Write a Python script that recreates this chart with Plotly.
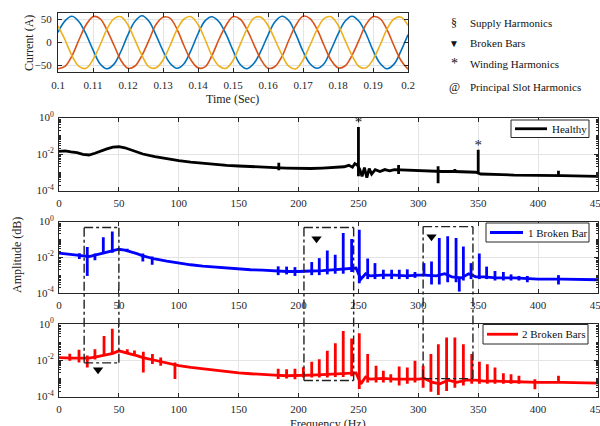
import math
import plotly.graph_objects as go

W, H = 600, 426
FONT = "Liberation Serif"
AX = "#262626"
GRID = "#e4e4e4"

# ---------------- three-phase current (A) sampled every 2 ms ----------------
time_s = [round(0.100 + 0.002 * k, 3) for k in range(51)]
phase_blue = [22, 47, 57, 45, 18, -16, -46, -57, -47, -19,
              17, 46, 58, 46, 16, -18, -45, -56, -46, -17,
              19, 47, 56, 45, 18, -17, -47, -57, -45, -18,
              16, 45, 57, 47, 17, -19, -46, -56, -46, -16,
              18, 46, 57, 46, 19, -17, -45, -57, -47, -18,
              17]
phase_red = [-57, -52, -29, 6, 38, 56, 52, 27, -6, -39,
             -56, -51, -28, 5, 39, 55, 53, 29, -7, -38,
             -55, -53, -28, 7, 37, 56, 51, 28, -5, -37,
             -56, -52, -30, 6, 38, 57, 52, 29, -6, -38,
             -55, -51, -28, 5, 39, 56, 52, 28, -7, -39,
             -58]
phase_yellow = [36, 6, -29, -52, -56, -37, -6, 29, 52, 56,
                38, 5, -28, -53, -55, -38, -7, 28, 51, 56,
                39, 7, -29, -51, -56, -39, -5, 29, 53, 55,
                37, 6, -27, -52, -57, -38, -6, 28, 52, 56,
                38, 5, -28, -52, -55, -37, -6, 29, 51, 55,
                37]

# ---------------- Healthy spectrum ----------------
h_base_f = [0, 5, 10, 15, 20, 25, 30, 35, 40, 45, 50, 55, 60, 65, 70, 80, 90, 100, 110, 120,
            130, 140, 150, 160, 170, 180, 190, 200, 210, 220, 230, 238, 242, 245, 247, 249,
            251, 253, 255, 257, 259, 261, 264, 268, 272, 276, 280, 290, 300, 310, 320, 330,
            340, 348, 352, 360, 370, 380, 400, 420, 440, 450]
h_base_a = [0.014, 0.015, 0.013, 0.012, 0.0095, 0.0088, 0.011, 0.015, 0.019, 0.024, 0.025,
            0.022, 0.017, 0.013, 0.010, 0.0072, 0.0055, 0.0043, 0.0036, 0.0031, 0.0027, 0.0024,
            0.0022, 0.0020, 0.0019, 0.0018, 0.0017, 0.0016, 0.0016, 0.0017, 0.0018, 0.0020,
            0.0024, 0.0019, 0.0030, 0.0025, 0.0015, 0.0006, 0.0018, 0.0005, 0.0016, 0.0008,
            0.0014, 0.0011, 0.0014, 0.0012, 0.0014, 0.0013, 0.0013, 0.0012, 0.0011, 0.0011,
            0.0010, 0.0010, 0.0008, 0.0008, 0.00075, 0.0007, 0.0007, 0.00065, 0.00062, 0.0006]
h_spike_f = [183.5, 250, 283.5, 316.5, 330.5, 350, 417]
h_spike_top = [0.0033, 0.30, 0.0025, 0.0021, 0.0015, 0.017, 0.0012]
h_spike_bot = [0.0013, 0.0006, 0.0008, 0.00025, 0.0009, 0.0009, 0.0006]

# ---------------- 1 broken bar spectrum ----------------
b1_base_f = [0, 5, 10, 15, 20, 25, 30, 35, 40, 45, 50, 55, 60, 65, 70, 80, 90, 100, 110, 120,
             130, 140, 150, 160, 170, 180, 190, 200, 205, 210, 220, 230, 240, 248, 252, 256,
             260, 270, 280, 290, 300, 305, 315, 322, 328, 336, 342, 348, 355, 365, 380, 400,
             420, 440, 450]
b1_base_a = [0.017, 0.016, 0.015, 0.013, 0.012, 0.011, 0.013, 0.016, 0.019, 0.024, 0.028,
             0.025, 0.021, 0.016, 0.012, 0.008, 0.006, 0.0047, 0.0038, 0.0032, 0.0028, 0.0025,
             0.0022, 0.0020, 0.0019, 0.0017, 0.0016, 0.0016, 0.0016, 0.0017, 0.0018, 0.0020,
             0.0022, 0.0025, 0.0006, 0.0012, 0.0009, 0.0010, 0.0010, 0.0009, 0.0010, 0.0010,
             0.0009, 0.0012, 0.0008, 0.0007, 0.0012, 0.0008, 0.0008, 0.0007, 0.0007, 0.0006,
             0.0006, 0.00055, 0.00055]
b1_spike_f = [17, 23.6, 30, 37, 44.5, 57, 70, 77.8, 183, 190, 197, 211, 217.3, 224, 230.6,
              237.3, 244.3, 250.7, 257.7, 263.8, 270.8, 277.7, 284.1, 290.8, 297.2, 304.7, 311,
              317.5, 324.5, 331.5, 334.2, 337.6, 344, 350.9, 357, 364, 371, 377.4, 384, 391, 417]
b1_spike_top = [0.017, 0.037, 0.016, 0.13, 0.28, 0.030, 0.016, 0.011, 0.0031, 0.003, 0.0028,
                0.0054, 0.0089, 0.024, 0.014, 0.23, 0.105, 0.35, 0.0085, 0.0047, 0.002, 0.002,
                0.002, 0.0021, 0.0015, 0.0047, 0.0058, 0.12, 0.15, 0.12, 0.0008, 0.04, 0.0047,
                0.016, 0.003, 0.0017, 0.0015, 0.0011, 0.0009, 0.0009, 0.001]
b1_spike_bot = [0.008, 0.0009, 0.0068, 0.017, 0.018, 0.02, 0.0058, 0.0038, 0.001, 0.0011,
                0.0009, 0.001, 0.001, 0.0011, 0.0012, 0.0012, 0.0015, 0.00035, 0.0006, 0.0006,
                0.0006, 0.0006, 0.0006, 0.0006, 0.0007, 0.0009, 0.0003, 0.0003, 0.0004, 0.0004,
                0.00012, 0.0005, 0.0006, 0.0006, 0.0006, 0.0005, 0.0005, 0.0005, 0.0005, 0.0004,
                0.0003]

# ---------------- 2 broken bars spectrum ----------------
b2_base_f = [0, 5, 10, 15, 20, 25, 30, 35, 40, 45, 50, 55, 60, 65, 70, 80, 90, 100, 110, 120,
             130, 140, 150, 160, 170, 180, 190, 200, 210, 220, 230, 240, 248, 252, 256, 260,
             270, 280, 290, 300, 305, 312, 318, 325, 332, 340, 348, 355, 365, 380, 400, 420,
             440, 450]
b2_base_a = [0.014, 0.013, 0.013, 0.013, 0.0125, 0.013, 0.015, 0.017, 0.020, 0.024, 0.033,
             0.028, 0.022, 0.018, 0.014, 0.010, 0.007, 0.005, 0.004, 0.0033, 0.0028, 0.0023,
             0.0020, 0.0018, 0.0016, 0.0015, 0.0014, 0.0014, 0.0015, 0.0016, 0.0017, 0.0019,
             0.0020, 0.0005, 0.0012, 0.0009, 0.0010, 0.0009, 0.0009, 0.0009, 0.0010, 0.0006,
             0.0005, 0.0008, 0.0006, 0.0008, 0.0008, 0.0007, 0.0007, 0.00065, 0.0006, 0.0006,
             0.00055, 0.00055]
b2_spike_f = [9, 16.7, 23.6, 30, 37.6, 44.5, 57, 63, 70.4, 78, 84.9, 96.8, 183, 190, 197, 204,
              211, 217.3, 224, 230.7, 237.3, 244.3, 250.7, 257.7, 264.7, 270.8, 277, 284, 290.8,
              297.2, 304, 310.5, 316.7, 323.6, 330.5, 337.6, 344.6, 351, 357.6, 364, 371,
              377.4, 384, 397.3, 417]
b2_spike_top = [0.023, 0.038, 0.018, 0.041, 0.22, 0.55, 0.04, 0.035, 0.029, 0.022, 0.014,
                0.0076, 0.0034, 0.0032, 0.0034, 0.0041, 0.0083, 0.0115, 0.033, 0.087, 0.41,
                0.16, 0.31, 0.022, 0.005, 0.0026, 0.0017, 0.0045, 0.004, 0.0093, 0.005, 0.022,
                0.077, 0.18, 0.18, 0.077, 0.022, 0.0083, 0.006, 0.004, 0.0019, 0.0017, 0.0014,
                0.0009, 0.0014]
b2_spike_bot = [0.0094, 0.0076, 0.004, 0.011, 0.02, 0.022, 0.025, 0.02, 0.0021, 0.0063, 0.005,
                0.00093, 0.00093, 0.001, 0.0009, 0.0011, 0.0011, 0.0011, 0.0011, 0.0012, 0.0012,
                0.0013, 0.00026, 0.0006, 0.0006, 0.0006, 0.0006, 0.0004, 0.0005, 0.0006, 0.0003,
                0.00018, 0.00012, 0.0002, 0.0003, 0.0004, 0.0005, 0.0005, 0.0005, 0.0005, 0.0005,
                0.0005, 0.0005, 0.00025, 0.0006]

# ---------------- annotations data ----------------
star_f = [250, 350]
star_a = [0.5, 0.028]
tri_p2_f = [215, 311]
tri_p2_a = [0.11, 0.14]
tri_p3_f = [32.6]
tri_p3_a = [0.003]
box_f0 = [21, 204.5, 304]
box_f1 = [50, 246, 345.6]
box_top = [0.46, 0.46, 0.52]      # amplitude in the 1-broken-bar panel
box_bot = [0.0072, 0.00076, 0.00097]  # amplitude in the 2-broken-bars panel

symbols = ["§", "▼", "*", "@"]
symbol_labels = ["Supply Harmonics", "Broken Bars", "Winding Harmonics", "Principal Slot Harmonics"]


def px_x(p):
    return p / W


def px_y(p):
    return 1 - p / H


def spectrum_xy(bf, ba, sf, st, sb):
    x = list(bf) + [None]
    y = list(ba) + [None]
    for f, top, bot in zip(sf, st, sb):
        x += [f, f, None]
        y += [bot, top, None]
    return x, y


fig = go.Figure()

# current waveforms
for vals, col in [(phase_blue, "#0072BD"), (phase_red, "#D95319"), (phase_yellow, "#EDB120")]:
    fig.add_trace(go.Scatter(x=time_s, y=vals, mode="lines", line=dict(color=col, width=1.6, shape="spline"),
                             xaxis="x", yaxis="y", showlegend=False, hoverinfo="skip"))

specs = [
    ("Healthy", "black", h_base_f, h_base_a, h_spike_f, h_spike_top, h_spike_bot, "x2", "y2"),
    ("1 Broken Bar", "#0000FF", b1_base_f, b1_base_a, b1_spike_f, b1_spike_top, b1_spike_bot, "x3", "y3"),
    ("2 Broken Bars", "#FF0000", b2_base_f, b2_base_a, b2_spike_f, b2_spike_top, b2_spike_bot, "x4", "y4"),
]
for name, col, bf, ba, sf, st, sb, xa, ya in specs:
    x, y = spectrum_xy(bf, ba, sf, st, sb)
    fig.add_trace(go.Scatter(x=x, y=y, mode="lines", name=name, line=dict(color=col, width=2.8),
                             xaxis=xa, yaxis=ya, showlegend=False))

# asterisks
fig.add_trace(go.Scatter(x=star_f, y=star_a, mode="text", text=["*"] * len(star_f),
                         textfont=dict(family=FONT, size=15, color="#222"),
                         xaxis="x2", yaxis="y2", showlegend=False))
# broken bar markers
fig.add_trace(go.Scatter(x=tri_p2_f, y=tri_p2_a, mode="markers",
                         marker=dict(symbol="triangle-down", size=9, color="black"),
                         xaxis="x3", yaxis="y3", showlegend=False))
fig.add_trace(go.Scatter(x=tri_p3_f, y=tri_p3_a, mode="markers",
                         marker=dict(symbol="triangle-down", size=9, color="black"),
                         xaxis="x4", yaxis="y4", showlegend=False))

# domains
dom_x_top = [px_x(58), px_x(408)]
dom_y_top = [px_y(72), px_y(13)]
dom_x_sp = [px_x(59), px_x(598)]
dom_p1 = [px_y(190.5), px_y(117.5)]
dom_p2 = [px_y(293), px_y(221.5)]
dom_p3 = [px_y(396.5), px_y(324)]
LOGR = [-4, 0]


def paper_from_log(v, dom):
    return dom[0] + (math.log10(v) - LOGR[0]) / (LOGR[1] - LOGR[0]) * (dom[1] - dom[0])


tickfont = dict(family=FONT, size=11, color=AX)
common = dict(showline=True, linecolor=AX, linewidth=1, mirror="ticks", ticks="inside",
              ticklen=4, tickcolor=AX, tickfont=tickfont, showgrid=True, gridcolor=GRID,
              gridwidth=1, zeroline=False, automargin=False)

minor_vals = [k * 10 ** e for e in range(-4, 0) for k in range(2, 10)] + [1e-3, 1e-1]
log_y = dict(type="log", range=LOGR, tickmode="array", tickvals=[1, 1e-2, 1e-4],
             ticktext=["10<sup>0</sup>", "10<sup>-2</sup>", "10<sup>-4</sup>"],
             minor=dict(ticks="inside", ticklen=2, tickcolor=AX, tickmode="array",
                        tickvals=minor_vals, showgrid=False),
             ticklabelstandoff=2, ticklabeloverflow="allow", **common)
freq_x = dict(range=[0, 450], tickmode="array", tickvals=list(range(0, 451, 50)),
              ticklabelstandoff=2, ticklabeloverflow="allow", **common)

fig.update_layout(
    template="none",
    width=W, height=H, autosize=False,
    margin=dict(l=0, r=0, t=0, b=0, pad=0),
    paper_bgcolor="white", plot_bgcolor="white",
    font=dict(family=FONT, size=11, color=AX),
    showlegend=False,
    xaxis=dict(domain=dom_x_top, anchor="y", range=[0.1, 0.2], tickmode="array",
               tickvals=[round(0.1 + 0.01 * i, 2) for i in range(11)], ticklabelstandoff=3,
               ticklabeloverflow="allow", **common),
    yaxis=dict(domain=dom_y_top, anchor="x", range=[-64, 64], tickmode="array",
               tickvals=[-50, 0, 50], ticklabelstandoff=3, **common),
    xaxis2=dict(domain=dom_x_sp, anchor="y2", **freq_x),
    yaxis2=dict(domain=dom_p1, anchor="x2", **log_y),
    xaxis3=dict(domain=dom_x_sp, anchor="y3", **freq_x),
    yaxis3=dict(domain=dom_p2, anchor="x3", **log_y),
    xaxis4=dict(domain=dom_x_sp, anchor="y4", **freq_x),
    yaxis4=dict(domain=dom_p3, anchor="x4", **log_y),
)

shapes = []
ann = []


def label(text, x, y, size=12, angle=0, xanchor="center", color="#222"):
    ann.append(dict(text=text, x=px_x(x), y=px_y(y), xref="paper", yref="paper",
                    xanchor=xanchor, yanchor="middle", textangle=angle, showarrow=False,
                    font=dict(family=FONT, size=size, color=color)))


# hand-drawn legend boxes (MATLAB style): box, line sample, label
legend_boxes = [  # (left, right, top, bottom, line_x0, line_x1, text_x) in pixels
    (511, 589, 120, 137.5, 515, 547, 550),
    (486, 589, 223, 242, 490, 523, 526),
    (483, 588, 324.5, 344, 487, 518, 520),
]
for (l, r, t, b, lx0, lx1, tx), spec in zip(legend_boxes, specs):
    name, col = spec[0], spec[1]
    shapes.append(dict(type="rect", xref="paper", yref="paper", x0=px_x(l), x1=px_x(r),
                       y0=px_y(b), y1=px_y(t), fillcolor="white", line=dict(color=AX, width=1),
                       layer="above"))
    ym = (t + b) / 2
    shapes.append(dict(type="line", xref="paper", yref="paper", x0=px_x(lx0), x1=px_x(lx1),
                       y0=px_y(ym), y1=px_y(ym), line=dict(color=col, width=2.8), layer="above"))
    label(name, tx, ym, size=11, xanchor="left", color="#111")

# dash-dot boxes spanning the two broken-bar panels
line_style = dict(color="#222", width=1.4, dash="dashdot")
for f0, f1, top, bot in zip(box_f0, box_f1, box_top, box_bot):
    shapes.append(dict(type="line", xref="x3", yref="y3", x0=f0, x1=f1, y0=top, y1=top, line=line_style))
    shapes.append(dict(type="line", xref="x4", yref="y4", x0=f0, x1=f1, y0=bot, y1=bot, line=line_style))
    y_top = paper_from_log(top, dom_p2)
    y_bot = paper_from_log(bot, dom_p3)
    for f in (f0, f1):
        shapes.append(dict(type="line", xref="x3", yref="paper", x0=f, x1=f, y0=y_bot, y1=y_top,
                           line=line_style))

label("Current (A)", 29, 43, angle=-90)
label("Time (Sec)", 233, 99)
label("Amplitude (dB)", 17, 255, angle=-90)
label("Frequency (Hz)", 328, 424)

sym_y = [23, 43, 64, 87]
sym_size = [12, 10, 14, 12]
for s, lab, yy, ss in zip(symbols, symbol_labels, sym_y, sym_size):
    label(s, 454, yy, size=ss, color="#111")
    label(lab, 468, yy, size=11, xanchor="left", color="#111")

fig.update_layout(shapes=shapes, annotations=ann)

fig.write_html("out.html", config={"displayModeBar": False},
               post_script="document.body.style.margin='0px';")
